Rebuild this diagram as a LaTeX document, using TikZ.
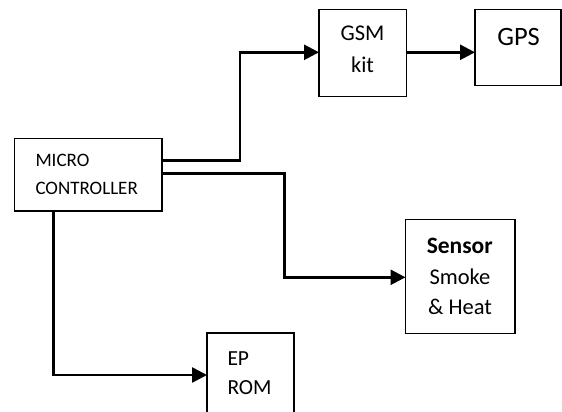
\documentclass[tikz,border=0pt]{standalone}
\usepackage{fontspec}
\setmainfont{Carlito}
\usetikzlibrary{arrows.meta}
\begin{document}
\begin{tikzpicture}[x=1pt,y=-1pt,
  blockbox/.style={draw=black,line width=1.5pt,inner sep=0pt,outer sep=0pt},
  conn/.style={line width=2.6pt,-{Triangle[length=15pt,width=15pt]}},
  lbl/.style={inner sep=0pt,outer sep=0pt}]
\useasboundingbox (0,0) rectangle (562,412);
\fill[white] (0,0) rectangle (562,412);
% boxes
\node[blockbox,minimum width=147.5pt,minimum height=72.5pt] (mc) at (88.25,174.75) {};
\node[blockbox,minimum width=87.5pt,minimum height=87pt] (gsm) at (362.75,53) {};
\node[blockbox,minimum width=86pt,minimum height=76pt] (gps) at (518,47.5) {};
\node[blockbox,minimum width=109.5pt,minimum height=114pt] (sensor) at (460.25,276.5) {};
\node[blockbox,minimum width=87pt,minimum height=100pt] (eprom) at (250.5,383) {};
% texts
\node[lbl,anchor=base west,font=\fontsize{19}{22}\selectfont] (t1) at (35.5,166.7) {MICRO};
\node[lbl,anchor=base west,font=\fontsize{19}{22}\selectfont] (t2) at (35.5,194) {CONTROLLER};
\node[lbl,anchor=base,font=\fontsize{22.5}{26}\selectfont] (t3) at (362.5,40.7) {GSM};
\node[lbl,anchor=base,font=\fontsize{22.5}{26}\selectfont] (t4) at (362.5,72.7) {kit};
\node[lbl,anchor=base,font=\fontsize{26.5}{30}\selectfont] (t5) at (518.6,45.7) {GPS};
\node[lbl,anchor=base,font=\fontsize{23.5}{26}\selectfont\bfseries] (t6) at (459.7,253.3) {Sensor};
\node[lbl,anchor=base,font=\fontsize{22.5}{26}\selectfont] (t7) at (460,284) {Smoke};
\node[lbl,anchor=base,font=\fontsize{22.5}{26}\selectfont] (t8) at (460,314) {\& Heat};
\node[lbl,anchor=base west,font=\fontsize{21.5}{24}\selectfont] (t9) at (227.5,365) {EP};
\node[lbl,anchor=base west,font=\fontsize{21.5}{24}\selectfont] (t10) at (227.5,394.3) {ROM};
% connectors
\draw[conn] (mc.east |- {(0,160.7)}) -- (240,160.7) |- (gsm.west |- {(0,52.3)});
\draw[conn] (gsm.east |- {(0,52.3)}) -- (gps.west |- {(0,52.3)});
\draw[conn] (mc.east |- {(0,173.3)}) -- (284.2,173.3) |- (sensor.west |- {(0,277.3)});
\draw[conn] (mc.south -| {(53.4,0)}) |- (eprom.west |- {(0,375)});
\end{tikzpicture}
\end{document}
